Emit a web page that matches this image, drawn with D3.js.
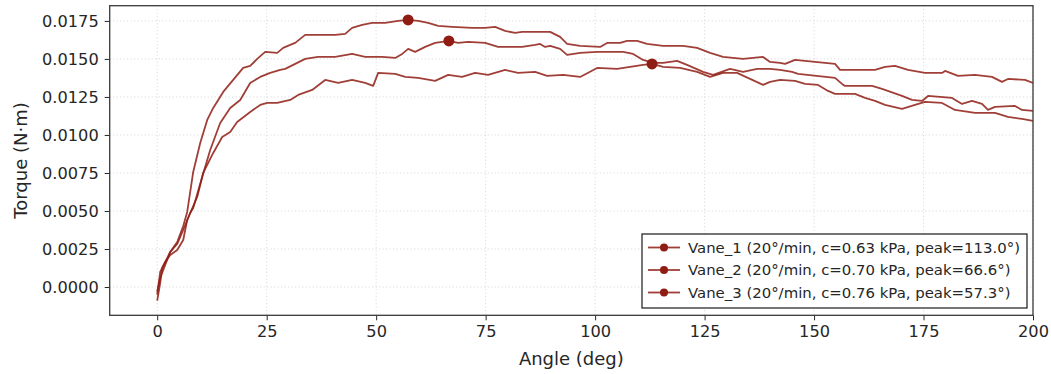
<!DOCTYPE html>
<html>
<head>
<meta charset="utf-8">
<script src="https://cdn.jsdelivr.net/npm/d3@7/dist/d3.min.js"></script>
<style>
  body { margin: 0; background: #fff; }
  svg { font-family: "DejaVu Sans", sans-serif; }
</style>
</head>
<body>
<div id="chart"></div>
<script>
// values
const vane1Angle = [0, 0.68, 1.83, 2.97, 4.57, 5.94, 6.85, 9.13, 10.5, 12.79, 14.84, 16.67, 18.26, 21.23, 23.52, 25.11, 27.4, 30.37, 32.19, 35.39, 38.36, 41.32, 44.52, 47.49, 49.32, 50.46, 54.34, 56.65, 59.59, 63.47, 66.44, 69.63, 72.6, 75.57, 79.45, 82.42, 86.3, 89.04, 92.69, 96.58, 100.46, 105.02, 107.99, 110.96, 113.0, 115.53, 119.41, 123.29, 126.26, 129.22, 132.42, 135.39, 138.36, 139.95, 142.24, 145.66, 147.95, 150.91, 153.2, 154.79, 159.36, 161.64, 163.93, 166.21, 170.09, 173.06, 175.34, 179.22, 182.19, 186.76, 191.32, 194.29, 197.49, 200];
const vane1Torque = [-0.0005, 0.000987, 0.001645, 0.002105, 0.002434, 0.003092, 0.004408, 0.005921, 0.0075, 0.008816, 0.009868, 0.010197, 0.010855, 0.011513, 0.011974, 0.012105, 0.012105, 0.012303, 0.012632, 0.012961, 0.013618, 0.013421, 0.013618, 0.013421, 0.013224, 0.014079, 0.014013, 0.013816, 0.01375, 0.013553, 0.013947, 0.013816, 0.014079, 0.013947, 0.014276, 0.014079, 0.014145, 0.013882, 0.013947, 0.013816, 0.014408, 0.014342, 0.014474, 0.014605, 0.014671, 0.014474, 0.014408, 0.014145, 0.013816, 0.014079, 0.014079, 0.013684, 0.013289, 0.013487, 0.013618, 0.013553, 0.013355, 0.013289, 0.012895, 0.012697, 0.012697, 0.012434, 0.012237, 0.011974, 0.01171, 0.011974, 0.012171, 0.012105, 0.011645, 0.011447, 0.011447, 0.011184, 0.011053, 0.010921];

const vane2Angle = [0, 0.68, 1.14, 2.97, 4.57, 5.94, 7.53, 8.22, 10.27, 12.1, 14.38, 16.67, 18.95, 21.23, 23.52, 25.8, 28.08, 29.22, 31.51, 33.79, 36.76, 40.64, 44.52, 47.49, 51.37, 54.34, 55.94, 57.31, 58.9, 61.19, 63.47, 66.6, 68.72, 71.0, 74.89, 77.85, 81.05, 83.33, 86.3, 87.44, 88.58, 89.73, 92.01, 93.61, 96.58, 100.46, 106.39, 108.68, 110.96, 113.24, 115.53, 118.72, 121.0, 124.66, 126.94, 130.82, 133.79, 136.99, 139.95, 142.24, 144.98, 146.35, 154.79, 156.39, 157.08, 163.24, 165.53, 170.09, 172.37, 174.66, 176.03, 181.51, 183.79, 186.07, 188.36, 189.73, 191.32, 195.89, 197.49, 200];
const vane2Torque = [-0.0009, 0.000263, 0.00125, 0.002303, 0.002829, 0.00375, 0.004868, 0.005197, 0.007237, 0.009013, 0.010789, 0.011776, 0.012303, 0.013421, 0.013816, 0.014079, 0.014276, 0.014342, 0.014671, 0.015, 0.015132, 0.015132, 0.015329, 0.015132, 0.015132, 0.015066, 0.015329, 0.015658, 0.015461, 0.015789, 0.016053, 0.016184, 0.016053, 0.016118, 0.016053, 0.015789, 0.015789, 0.015789, 0.015921, 0.015987, 0.015789, 0.015855, 0.015658, 0.015263, 0.015395, 0.015461, 0.015461, 0.015329, 0.014934, 0.014737, 0.014737, 0.014868, 0.014605, 0.014145, 0.013947, 0.014342, 0.014145, 0.014342, 0.014342, 0.014276, 0.014145, 0.014013, 0.01375, 0.013355, 0.013224, 0.013224, 0.013026, 0.012566, 0.012303, 0.012237, 0.012566, 0.012434, 0.012039, 0.012237, 0.012039, 0.011645, 0.011842, 0.011908, 0.011645, 0.011579];

const vane3Angle = [0, 0.68, 1.83, 2.97, 4.57, 5.94, 6.85, 8.22, 9.82, 11.42, 12.79, 15.07, 17.35, 19.63, 21.23, 22.83, 24.66, 27.4, 28.77, 30.37, 31.51, 33.79, 36.76, 40.64, 42.92, 44.52, 46.8, 49.09, 52.05, 55.02, 57.3, 59.59, 61.87, 64.16, 67.35, 71.92, 74.89, 77.17, 79.45, 81.74, 83.33, 86.3, 89.73, 92.01, 93.61, 96.58, 101.14, 102.74, 105.71, 107.31, 109.59, 111.87, 115.53, 120.09, 123.29, 126.26, 129.22, 133.79, 138.36, 139.95, 142.24, 143.38, 145.66, 147.95, 154.79, 155.94, 163.93, 166.21, 168.49, 171.46, 175.34, 179.22, 179.91, 182.88, 186.76, 190.64, 192.92, 194.29, 198.17, 200];
const vane3Torque = [-0.0003, 0.000592, 0.001447, 0.002303, 0.00296, 0.004013, 0.004934, 0.007566, 0.009474, 0.010987, 0.011776, 0.012829, 0.013618, 0.014408, 0.014539, 0.015, 0.015461, 0.015395, 0.015724, 0.015921, 0.016053, 0.016579, 0.016579, 0.016579, 0.016645, 0.017039, 0.017237, 0.017368, 0.017368, 0.0175, 0.017566, 0.0175, 0.017368, 0.017171, 0.017105, 0.017039, 0.017039, 0.017105, 0.016842, 0.016711, 0.016776, 0.016776, 0.016776, 0.016447, 0.015987, 0.015855, 0.015789, 0.016053, 0.016053, 0.016184, 0.016184, 0.015987, 0.015855, 0.015855, 0.015724, 0.015395, 0.015132, 0.015, 0.015132, 0.014803, 0.014737, 0.014671, 0.014934, 0.014868, 0.014671, 0.014276, 0.014276, 0.014474, 0.014539, 0.014276, 0.014079, 0.014079, 0.014211, 0.013882, 0.013947, 0.013816, 0.013487, 0.013684, 0.013618, 0.013421];

const seriesLabels = [
  "Vane_1 (20°/min, c=0.63 kPa, peak=113.0°)",
  "Vane_2 (20°/min, c=0.70 kPa, peak=66.6°)",
  "Vane_3 (20°/min, c=0.76 kPa, peak=57.3°)"
];
const xTicks = [0, 25, 50, 75, 100, 125, 150, 175, 200];
const yTicks = [0, 0.0025, 0.005, 0.0075, 0.01, 0.0125, 0.015, 0.0175];

const series = [
  { label: seriesLabels[0], angle: vane1Angle, torque: vane1Torque },
  { label: seriesLabels[1], angle: vane2Angle, torque: vane2Torque },
  { label: seriesLabels[2], angle: vane3Angle, torque: vane3Torque }
];

const width = 1051, height = 374;
const margin = { top: 5.7, right: 18, bottom: 58.7, left: 109.7 };
const innerW = width - margin.left - margin.right;
const innerH = height - margin.top - margin.bottom;
const lineColor = "#8f1d14";
const ink = "#262626";

const svg = d3.select("#chart").append("svg")
  .attr("width", width)
  .attr("height", height);

const g = svg.append("g")
  .attr("transform", `translate(${margin.left},${margin.top})`);

const x = d3.scaleLinear().domain([-10.85, 200]).range([0, innerW]);
const y = d3.scaleLinear().domain([-0.00186, 0.0185]).range([innerH, 0]);

// grid
g.append("g").selectAll("line")
  .data(xTicks)
  .join("line")
  .attr("x1", d => x(d)).attr("x2", d => x(d))
  .attr("y1", 0).attr("y2", innerH)
  .attr("stroke", "#d0d0d0").attr("stroke-width", 0.9)
  .attr("stroke-dasharray", "1,2.5");

g.append("g").selectAll("line")
  .data(yTicks)
  .join("line")
  .attr("x1", 0).attr("x2", innerW)
  .attr("y1", d => y(d)).attr("y2", d => y(d))
  .attr("stroke", "#d0d0d0").attr("stroke-width", 0.9)
  .attr("stroke-dasharray", "1,2.5");

svg.append("defs").append("clipPath").attr("id", "plot-clip")
  .append("rect").attr("width", innerW).attr("height", innerH);

const line = d3.line()
  .x(d => x(d[0]))
  .y(d => y(d[1]));

const plot = g.append("g").attr("clip-path", "url(#plot-clip)");

series.forEach(s => {
  const pts = s.angle.map((a, i) => [a, s.torque[i]]);
  plot.append("path")
    .datum(pts)
    .attr("d", line)
    .attr("fill", "none")
    .attr("stroke", lineColor)
    .attr("stroke-opacity", 0.85)
    .attr("stroke-width", 1.8)
    .attr("stroke-linejoin", "round");
});

// peak markers
series.forEach(s => {
  const i = d3.maxIndex(s.torque);
  plot.append("circle")
    .attr("cx", x(s.angle[i]))
    .attr("cy", y(s.torque[i]))
    .attr("r", 5.5)
    .attr("fill", lineColor);
});

// axes
const xAxis = g.append("g")
  .attr("transform", `translate(0,${innerH})`)
  .call(d3.axisBottom(x).tickValues(xTicks).tickSize(5).tickPadding(5).tickFormat(d3.format("d")));

const yAxis = g.append("g")
  .call(d3.axisLeft(y).tickValues(yTicks).tickSize(5).tickPadding(6).tickFormat(d3.format(".4f")));

[xAxis, yAxis].forEach(ax => {
  ax.select(".domain").remove();
  ax.selectAll(".tick line").attr("stroke", ink).attr("stroke-width", 1);
  ax.selectAll(".tick text").attr("fill", ink).style("font-size", "16.2px")
    .style("font-family", "DejaVu Sans, sans-serif");
});

// frame
g.append("rect")
  .attr("width", innerW).attr("height", innerH)
  .attr("fill", "none").attr("stroke", "#3a3a3a").attr("stroke-width", 1.3);

// axis labels
svg.append("text")
  .attr("x", margin.left + innerW / 2)
  .attr("y", 365)
  .attr("text-anchor", "middle")
  .attr("fill", ink)
  .style("font-size", "18px")
  .text("Angle (deg)");

svg.append("text")
  .attr("transform", `translate(27,${margin.top + innerH / 2}) rotate(-90)`)
  .attr("text-anchor", "middle")
  .attr("fill", ink)
  .style("font-size", "18px")
  .text("Torque (N·m)");

// legend
const legend = svg.append("g").attr("transform", "translate(642,234)");
legend.append("rect")
  .attr("width", 385).attr("height", 74)
  .attr("fill", "#fff").attr("stroke", "#1a1a1a").attr("stroke-width", 1.2);

const rows = legend.selectAll("g.row")
  .data(series)
  .join("g")
  .attr("class", "row")
  .attr("transform", (d, i) => `translate(0,${13.5 + i * 22.5})`);

rows.append("line")
  .attr("x1", 6).attr("x2", 38)
  .attr("stroke", lineColor).attr("stroke-opacity", 0.85).attr("stroke-width", 1.8);
rows.append("circle")
  .attr("cx", 22).attr("r", 4)
  .attr("fill", lineColor);
rows.append("text")
  .attr("x", 46).attr("dy", "0.35em")
  .attr("fill", ink)
  .style("font-size", "14.9px")
  .text(d => d.label);
</script>
</body>
</html>
